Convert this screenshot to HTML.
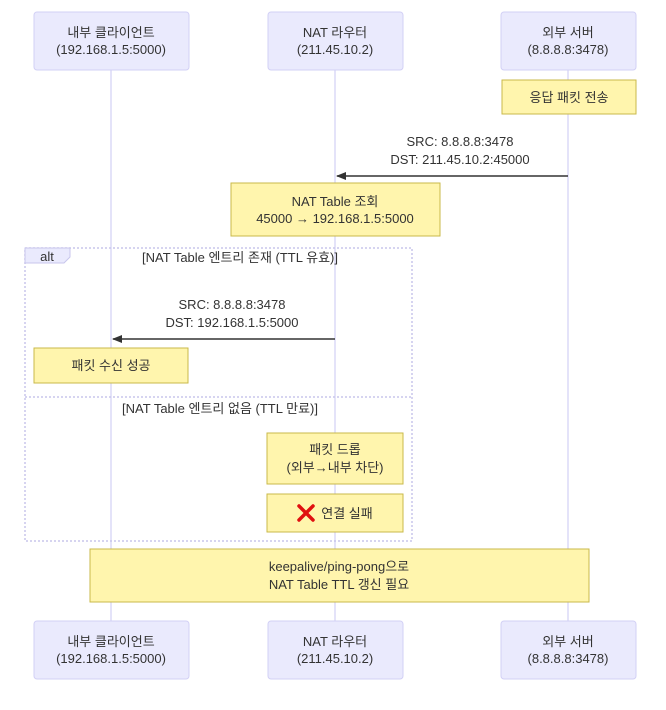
<!DOCTYPE html>
<html><head><meta charset="utf-8"><style>
body{margin:0;background:#fff}
text{font-family:"Liberation Sans","Noto Sans CJK KR",sans-serif;font-size:13px;fill:#333;text-anchor:middle}
.a{fill:#eaeafd;stroke:#d2d0f5;stroke-width:1}
.n{fill:#fff5ad;stroke:#c9b94a;stroke-width:1}
.l{stroke:#d2d0f5;stroke-width:1.2}
.d{stroke:#c8c6ec;stroke-width:1.5;stroke-dasharray:2,2;fill:none}
</style></head><body>
<svg width="666" height="705" xmlns="http://www.w3.org/2000/svg">
<defs><marker id="ar" markerUnits="userSpaceOnUse" markerWidth="10" markerHeight="10" refX="9" refY="5" orient="auto"><path d="M0,1L10,5L0,9z" fill="#333"/></marker></defs>
<line class="l" x1="111" y1="70" x2="111" y2="621"/>
<line class="l" x1="335" y1="70" x2="335" y2="621"/>
<line class="l" x1="568" y1="70" x2="568" y2="621"/>
<g>
<rect class="a" x="34" y="12" width="155" height="58" rx="3"/><text x="111" y="37">내부 클라이언트</text><text x="111" y="54">(192.168.1.5:5000)</text>
<rect class="a" x="268" y="12" width="135" height="58" rx="3"/><text x="335" y="37">NAT 라우터</text><text x="335" y="54">(211.45.10.2)</text>
<rect class="a" x="501" y="12" width="135" height="58" rx="3"/><text x="568" y="37">외부 서버</text><text x="568" y="54">(8.8.8.8:3478)</text>
<rect class="a" x="34" y="621" width="155" height="58" rx="3"/><text x="111" y="646">내부 클라이언트</text><text x="111" y="663">(192.168.1.5:5000)</text>
<rect class="a" x="268" y="621" width="135" height="58" rx="3"/><text x="335" y="646">NAT 라우터</text><text x="335" y="663">(211.45.10.2)</text>
<rect class="a" x="501" y="621" width="135" height="58" rx="3"/><text x="568" y="646">외부 서버</text><text x="568" y="663">(8.8.8.8:3478)</text>
</g>
<rect class="n" x="502" y="80" width="134" height="34"/><text x="569" y="102">응답 패킷 전송</text>
<text x="460" y="146">SRC: 8.8.8.8:3478</text><text x="460" y="164">DST: 211.45.10.2:45000</text>
<line x1="568" y1="176" x2="337" y2="176" stroke="#333" stroke-width="1.5" marker-end="url(#ar)"/>
<rect class="n" x="231" y="183" width="209" height="53"/><text x="335" y="206">NAT Table 조회</text><text x="335" y="223">45000 → 192.168.1.5:5000</text>
<rect class="d" x="25" y="248" width="387" height="293"/>
<path d="M25,248H70V257L64,263H25z" fill="#eaeafd" stroke="#c8c6ec"/>
<text x="47" y="261">alt</text>
<text x="240" y="262">[NAT Table 엔트리 존재 (TTL 유효)]</text>
<text x="232" y="309">SRC: 8.8.8.8:3478</text><text x="232" y="327">DST: 192.168.1.5:5000</text>
<line x1="335" y1="339" x2="113" y2="339" stroke="#333" stroke-width="1.5" marker-end="url(#ar)"/>
<rect class="n" x="34" y="348" width="154" height="35"/><text x="111" y="370">패킷 수신 성공</text>
<line class="d" x1="25" y1="397" x2="412" y2="397"/>
<text x="220" y="413">[NAT Table 엔트리 없음 (TTL 만료)]</text>
<rect class="n" x="267" y="433" width="136" height="51"/><text x="335" y="454">패킷 드롭</text><text x="335" y="472">(외부→내부 차단)</text>
<rect class="n" x="267" y="494" width="136" height="38"/>
<path d="M299,506L313,520M313,506L299,520" stroke="#e01010" stroke-width="3.5" stroke-linecap="round"/>
<text x="347" y="518">연결 실패</text>
<rect class="n" x="90" y="549" width="499" height="53"/><text x="339" y="571">keepalive/ping-pong으로</text><text x="339" y="589">NAT Table TTL 갱신 필요</text>
</svg>
</body></html>
